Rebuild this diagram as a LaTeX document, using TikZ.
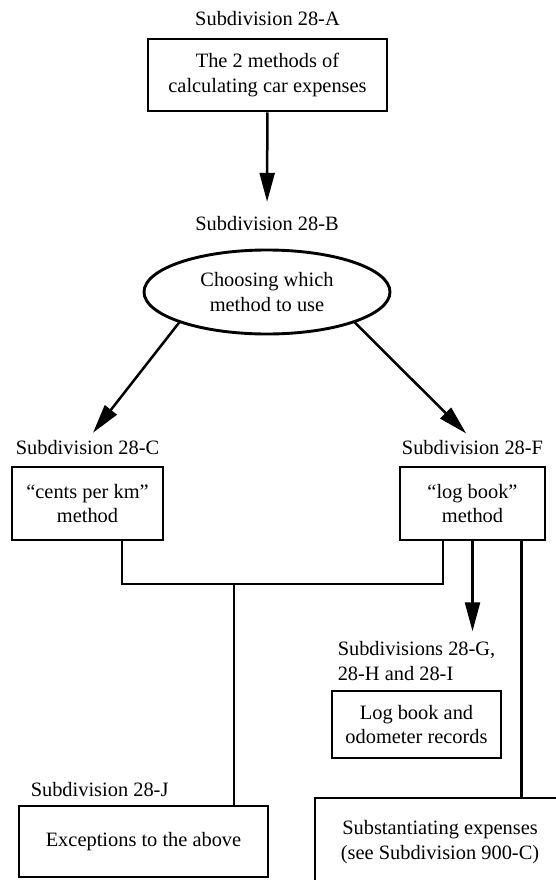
\documentclass[tikz,border=0pt]{standalone}
\usepackage{fontspec}
\setmainfont{Liberation Serif}
\usetikzlibrary{arrows.meta,positioning,shapes.geometric}

\begin{document}
\begin{tikzpicture}[x=1pt, y=-1pt, >={Triangle[length=29pt,width=15pt]}, node distance=11pt, font=\fontsize{20.4}{24.5}\selectfont]
  \tikzstyle{subbox}=[draw, line width=2.9pt, align=center, inner sep=0pt]
  \tikzstyle{subhead}=[inner sep=0pt, align=left]
  \tikzstyle{conn}=[line width=2.5pt]

  \useasboundingbox (0,0) rectangle (555,880);

  \node[subbox, minimum width=239pt, minimum height=72pt] (boxA) at (267.5,75) {The 2 methods of\\calculating car expenses};
  \node[subhead] (labA) [above=12pt of boxA] {Subdivision 28-A};

  \node[subbox, ellipse, minimum width=246pt, minimum height=84pt] (ell) at (267,292) {Choosing which\\method to use};
  \node[subhead] (labB) [above=18pt of ell] {Subdivision 28-B};

  \node[subbox, minimum width=151pt, minimum height=73pt] (boxC) at (87.5,503.5) {“cents per km”\\method};
  \node[subhead] (labC) [above=of boxC] {Subdivision 28-C};

  \node[subbox, minimum width=145pt, minimum height=73pt] (boxF) at (472.5,503.5) {“log book”\\method};
  \node[subhead] (labF) [above=of boxF] {Subdivision 28-F};

  \node[subbox, minimum width=169pt, minimum height=67pt] (boxG) at (416.5,724.5) {Log book and\\odometer records};
  \node[subhead] (labG) [above=9pt of boxG.north west, anchor=south west, xshift=7pt] {Subdivisions 28-G,\\28-H and 28-I};

  \node[subbox, minimum width=249pt, minimum height=71pt] (boxJ) at (143.5,841.5) {Exceptions to the above};
  \node[subhead] (labJ) [above=8pt of boxJ.north west, anchor=south west, xshift=13pt] {Subdivision 28-J};

  \node[subbox, minimum width=250pt, minimum height=88pt] (boxS) at (440,842) {Substantiating expenses\\(see Subdivision 900-C)};

  \coordinate (jn) at (234,584);
  \coordinate (cL) at ([xshift=34.5pt]boxC.south);
  \coordinate (fL) at ([xshift=-29.5pt]boxF.south);
  \coordinate (fR) at ([xshift=49pt]boxF.south);

  \draw[conn, ->, shorten >=14pt] (boxA) -- (labB);
  \draw[conn, ->, shorten >=9pt] (ell.south west) -- (labC.north);
  \draw[conn, ->, shorten >=9pt] (ell.south east) -- (labF.north);
  \draw[conn, ->, shorten >=10pt] (boxF.south) -- (boxF.south |- labG.north);
  \draw[conn] (cL) |- (jn) -| (fL);
  \draw[conn] (jn) -- (jn |- boxJ.north);
  \draw[conn] (fR) -- (fR |- boxS.north);
\end{tikzpicture}
\end{document}
